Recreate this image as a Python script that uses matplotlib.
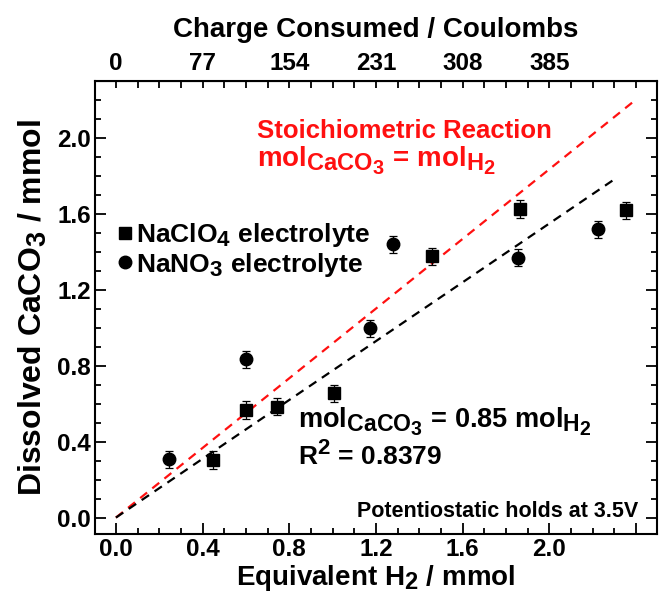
import matplotlib
matplotlib.use("Agg")
import matplotlib.pyplot as plt
import matplotlib._mathtext as _mt
from matplotlib.ticker import MultipleLocator

_mt.SHRINK_FACTOR = 0.85

plt.rcParams['font.family'] = ['Liberation Sans', 'DejaVu Sans']
plt.rcParams['font.weight'] = 'bold'
plt.rcParams['mathtext.fontset'] = 'custom'
plt.rcParams['mathtext.rm'] = 'Liberation Sans:bold'
plt.rcParams['mathtext.bf'] = 'Liberation Sans:bold'
plt.rcParams['mathtext.it'] = 'Liberation Sans:bold'
plt.rcParams['mathtext.default'] = 'rm'

# Data
clo4_x = [0.446, 0.600, 0.743, 1.007, 1.457, 1.864, 2.354]
clo4_y = [0.303, 0.566, 0.583, 0.654, 1.376, 1.624, 1.618]
clo4_err = [0.045, 0.045, 0.045, 0.045, 0.045, 0.045, 0.045]
no3_x = [0.246, 0.600, 1.174, 1.280, 1.857, 2.226]
no3_y = [0.306, 0.834, 0.996, 1.438, 1.367, 1.517]
no3_err = [0.045, 0.045, 0.045, 0.045, 0.045, 0.045]
stoich_x = [0.0, 2.40]
stoich_y = [0.0, 2.20]
fit_x = [0.0, 2.30]
fit_y = [0.0, 1.78]
coulomb_per_mmol = 192.5
top_ticks = [0, 77, 154, 231, 308, 385]
x_ticks = [0.0, 0.4, 0.8, 1.2, 1.6, 2.0, 2.4]
x_ticklabels = ['0.0', '0.4', '0.8', '1.2', '1.6', '2.0', '']
y_ticks = [0.0, 0.4, 0.8, 1.2, 1.6, 2.0]
y_ticklabels = ['0.0', '0.4', '0.8', '1.2', '1.6', '2.0']

RED = '#ff1010'
TXT = 19
TICK = 17.5

fig = plt.figure(figsize=(6.59, 5.98), dpi=100)
ax = fig.add_axes([0.144, 0.1065, 0.853, 0.7585])

ax.plot(stoich_x, stoich_y, color=RED, lw=1.6, dashes=[4, 3])
ax.plot(fit_x, fit_y, color='black', lw=1.6, dashes=[4, 3])

ax.errorbar(clo4_x, clo4_y, yerr=clo4_err, fmt='s', color='black', ms=8,
            elinewidth=0.9, capsize=3, capthick=0.9)
ax.errorbar(no3_x, no3_y, yerr=no3_err, fmt='o', color='black', ms=9,
            elinewidth=0.9, capsize=3, capthick=0.9)

ax.set_xlim(-0.097, 2.497)
ax.set_ylim(-0.088, 2.299)

ax.set_xticks(x_ticks)
ax.set_xticklabels(x_ticklabels)
ax.xaxis.set_minor_locator(MultipleLocator(0.1))
ax.set_yticks(y_ticks)
ax.set_yticklabels(y_ticklabels)
ax.yaxis.set_minor_locator(MultipleLocator(0.1))

ax.tick_params(which='both', direction='in', width=1.3, labelsize=TICK,
               bottom=True, left=True, right=True, top=False)
ax.tick_params(which='major', length=8)
ax.tick_params(which='minor', length=4)
ax.tick_params(axis='x', pad=3)
ax.tick_params(axis='y', pad=3)
for s in ax.spines.values():
    s.set_linewidth(1.5)

sec = ax.secondary_xaxis('top', functions=(lambda x: x * coulomb_per_mmol,
                                           lambda c: c / coulomb_per_mmol))
sec.set_xticks(top_ticks)
sec.set_xticklabels([str(t) for t in top_ticks])
sec.xaxis.set_minor_locator(MultipleLocator(19.25))
sec.tick_params(which='both', direction='in', width=1.3, length=5,
                labelsize=TICK, pad=4)
sec.set_xlabel('Charge Consumed / Coulombs', fontsize=20, fontweight='bold',
               labelpad=11)

ax.set_xlabel(r'Equivalent H$_2$ / mmol', fontsize=20, fontweight='bold', labelpad=1)
ax.set_ylabel(r'Dissolved CaCO$_3$ / mmol', fontsize=23, fontweight='bold', labelpad=6)

# annotations
ax.text(0.288, 0.874, 'Stoichiometric Reaction', transform=ax.transAxes,
        color=RED, fontsize=18.5, fontweight='bold', va='baseline')
ax.text(0.288, 0.810, r'mol$_{\mathrm{CaCO_3}}$ = mol$_{\mathrm{H_2}}$', transform=ax.transAxes,
        color=RED, fontsize=20, fontweight='bold', va='baseline')

ax.plot([0.053], [0.665], 's', color='black', ms=8, transform=ax.transAxes)
ax.plot([0.053], [0.601], 'o', color='black', ms=9, transform=ax.transAxes)
ax.text(0.074, 0.644, r'NaClO$_4$ electrolyte', transform=ax.transAxes,
        fontsize=TXT, fontweight='bold', va='baseline')
ax.text(0.074, 0.578, r'NaNO$_3$ electrolyte', transform=ax.transAxes,
        fontsize=TXT, fontweight='bold', va='baseline')

ax.text(0.361, 0.234, r'mol$_{\mathrm{CaCO_3}}$ = 0.85 mol$_{\mathrm{H_2}}$', transform=ax.transAxes,
        fontsize=19.5, fontweight='bold', va='baseline')
ax.text(0.361, 0.153, r'R$^2$ = 0.8379', transform=ax.transAxes,
        fontsize=TXT, fontweight='bold', va='baseline')
ax.text(0.966, 0.038, 'Potentiostatic holds at 3.5V', transform=ax.transAxes,
        fontsize=15.5, fontweight='bold', va='baseline', ha='right')

fig.savefig('out.png', dpi=100)
